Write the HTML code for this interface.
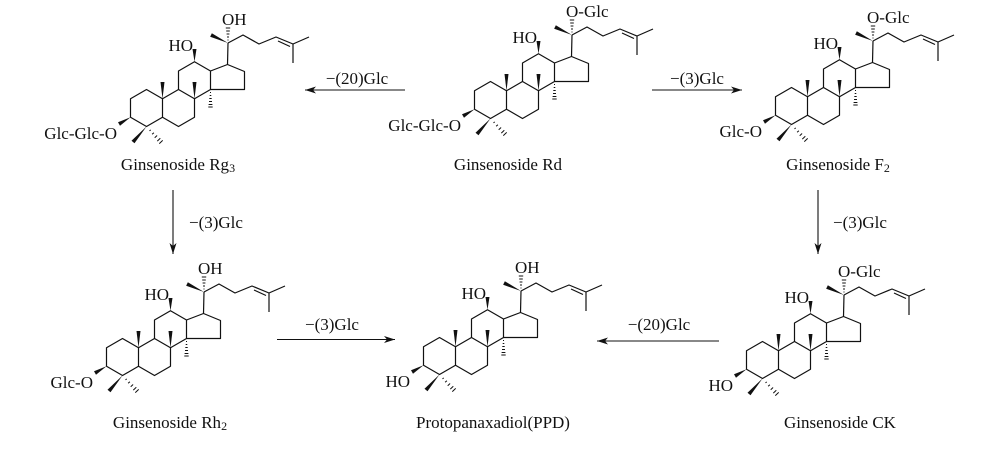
<!DOCTYPE html>
<html><head><meta charset="utf-8"><style>
html,body{margin:0;padding:0;background:#fff;}
svg{display:block;}
text{font-family:"Liberation Serif",serif;font-size:17px;fill:#111;}
</style></head><body>
<svg width="1000" height="451" viewBox="0 0 1000 451" xmlns="http://www.w3.org/2000/svg">
<defs>
<marker id="ah" markerWidth="12" markerHeight="8" refX="11" refY="4" orient="auto" markerUnits="userSpaceOnUse">
<path d="M0,0.5 L11,4 L0,7.5 L3,4 Z" fill="#111"/>
</marker>
<g id="mol">
<g fill="none" stroke="#111" stroke-width="1.2" stroke-linejoin="round">
<path d="M474.5,90.75 L490.5,81.5 L506.5,90.75 L506.5,109.25 L490.5,118.5 L474.5,109.25 Z"/>
<path d="M506.5,90.75 L522.5,81.5 L538.5,90.75 L538.5,109.25 L522.5,118.5 L506.5,109.25"/>
<path d="M522.5,81.5 L522.5,63 L538.5,53.75 L554.5,63 L554.5,81.5 L538.5,90.75"/>
<path d="M554.5,63 L571.5,56.5 L588.5,63.5 L588.5,81.5 L554.5,81.5"/>
<path d="M571.5,56.5 L572,35"/>
<path d="M572,35 L587,27 L603,36 L620,29 L637,36 L653,29 M637,36 L637,55"/>
<path d="M622,33 L634,38.5"/>
</g>
<g fill="#111">
<polygon points="506.5,90.75 504.5,74 508.5,74"/>
<polygon points="538.5,90.75 536.5,74 540.5,74"/>
<polygon points="538.5,53.75 536.5,41 540.5,41"/>
<polygon points="572,35 555.85,25.2 554.15,28.8"/>
<polygon points="474.5,109.25 464,117.7 462,114.3"/>
<polygon points="490.5,118.5 478.5,135.3 475.5,132.7"/>
</g>
<g stroke="#111" stroke-width="1">
<path d="M554,84.5 L555,84.5 M553.7,87.5 L555.3,87.5 M553.3,90.5 L555.7,90.5 M553,93.5 L556,93.5 M552.6,96.5 L556.4,96.5 M552.3,99 L556.7,99"/>
<path d="M493.5,122.9 L494.7,121.9 M496.1,126.3 L497.9,124.7 M498.7,129.7 L501.1,127.5 M501.3,133.1 L504.3,130.3 M503.3,135.6 L506.7,132.4"/>
<path d="M571.5,32 L572.5,32 M571,29 L573,29 M570.6,26 L573.4,26 M570.2,23 L573.8,23 M569.8,20 L574.2,20"/>
</g>
</g>
</defs>

<use href="#mol"/>
<text x="537" y="43" text-anchor="end">HO</text>
<text x="566" y="17">O-Glc</text>
<text x="461" y="131" text-anchor="end">Glc-Glc-O</text>
<text x="508" y="170" text-anchor="middle">Ginsenoside Rd</text>

<use href="#mol" transform="translate(-344,8)"/>
<text x="193" y="51" text-anchor="end">HO</text>
<text x="222" y="25">OH</text>
<text x="117" y="139" text-anchor="end">Glc-Glc-O</text>
<text x="178" y="170" text-anchor="middle">Ginsenoside Rg<tspan font-size="12" dy="2">3</tspan></text>

<use href="#mol" transform="translate(301,6)"/>
<text x="838" y="49" text-anchor="end">HO</text>
<text x="867" y="23">O-Glc</text>
<text x="762" y="137" text-anchor="end">Glc-O</text>
<text x="838" y="170" text-anchor="middle">Ginsenoside F<tspan font-size="12" dy="2">2</tspan></text>

<use href="#mol" transform="translate(-368,257)"/>
<text x="169" y="300" text-anchor="end">HO</text>
<text x="198" y="274">OH</text>
<text x="93" y="388" text-anchor="end">Glc-O</text>
<text x="170" y="428" text-anchor="middle">Ginsenoside Rh<tspan font-size="12" dy="2">2</tspan></text>

<use href="#mol" transform="translate(-51,256)"/>
<text x="486" y="299" text-anchor="end">HO</text>
<text x="515" y="273">OH</text>
<text x="410" y="387" text-anchor="end">HO</text>
<text x="493" y="428" text-anchor="middle">Protopanaxadiol(PPD)</text>

<use href="#mol" transform="translate(272,260)"/>
<text x="809" y="303" text-anchor="end">HO</text>
<text x="838" y="277">O-Glc</text>
<text x="733" y="391" text-anchor="end">HO</text>
<text x="840" y="428" text-anchor="middle">Ginsenoside CK</text>

<g stroke="#111" stroke-width="1.1" fill="none">
<line x1="405" y1="90" x2="305" y2="90" marker-end="url(#ah)"/>
<line x1="652" y1="90" x2="742" y2="90" marker-end="url(#ah)"/>
<line x1="173" y1="190" x2="173" y2="254" marker-end="url(#ah)"/>
<line x1="818" y1="190" x2="818" y2="254" marker-end="url(#ah)"/>
<line x1="277" y1="339.5" x2="395" y2="339.5" marker-end="url(#ah)"/>
<line x1="719" y1="341" x2="597" y2="341" marker-end="url(#ah)"/>
</g>
<text x="357" y="84" text-anchor="middle">−(20)Glc</text>
<text x="697" y="84" text-anchor="middle">−(3)Glc</text>
<text x="189" y="228">−(3)Glc</text>
<text x="833" y="228">−(3)Glc</text>
<text x="332" y="330" text-anchor="middle">−(3)Glc</text>
<text x="659" y="330" text-anchor="middle">−(20)Glc</text>
</svg>
</body></html>
